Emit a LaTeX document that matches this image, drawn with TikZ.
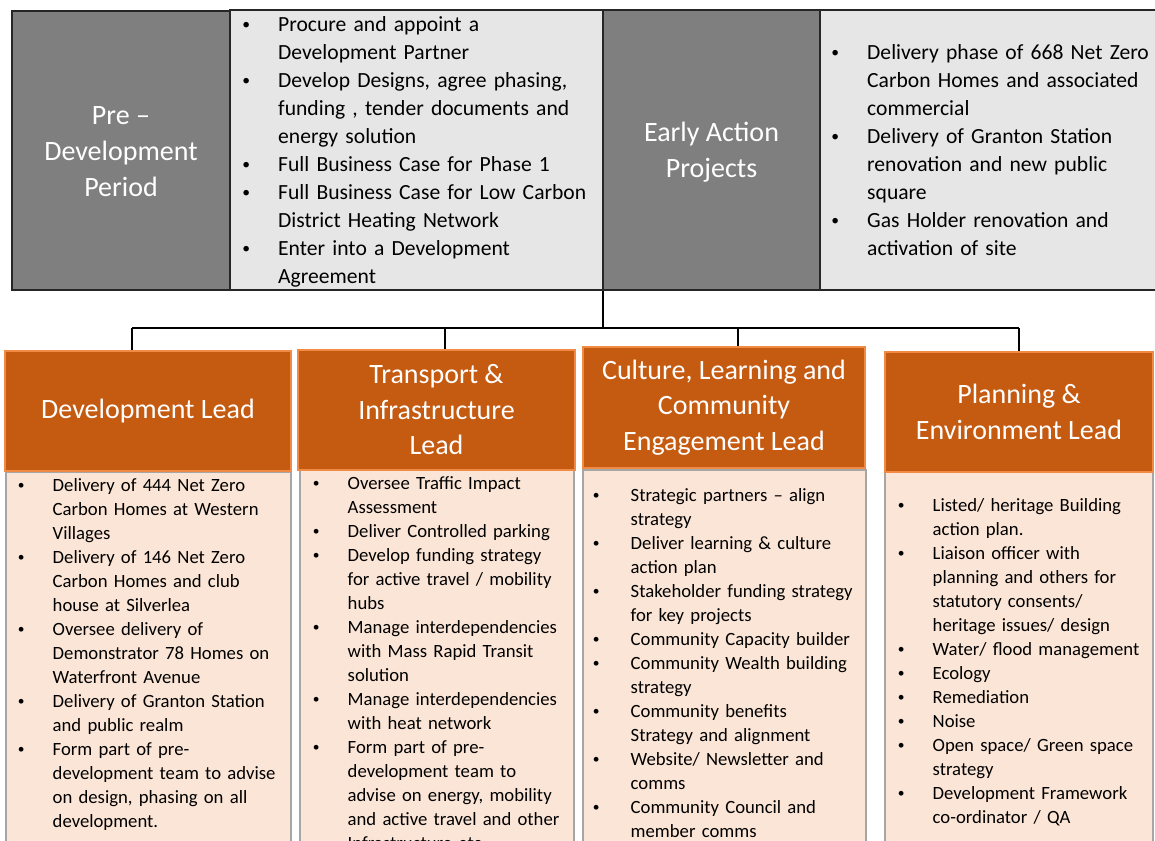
\documentclass[tikz,border=0pt]{standalone}
\usepackage{graphicx}
\usepackage{fontspec}
\setmainfont{Carlito}
\definecolor{dgrey}{HTML}{7F7F7F}
\definecolor{lgrey}{HTML}{E7E6E6}
\definecolor{frame}{HTML}{262626}
\definecolor{orng}{HTML}{C55A11}
\definecolor{hdrline}{HTML}{F08A45}
\definecolor{peach}{HTML}{FBE5D6}
\definecolor{listline}{HTML}{A6A6A6}
\newlength{\bind}
\newcommand{\itm}{\par\hangindent=\bind\hangafter=1\noindent\makebox[\bind][l]{\hspace{1.2pt}\raisebox{0.12em}{\scalebox{0.72}{•}}}\strut}
\tikzset{
 darkbox/.style={draw=frame, line width=2pt, fill=dgrey, inner sep=0pt},
 boxtitle/.style={text=white, font=\fontsize{28}{36}\selectfont, align=center, inner sep=0pt},
 lightbox/.style={draw=frame, line width=2pt, fill=lgrey, inner sep=0pt},
 hdr/.style={draw=hdrline, line width=1.5pt, fill=orng, text=white, font=\fontsize{28}{35.5}\selectfont, align=center, inner sep=0pt},
 listbox/.style={draw=listline, line width=1.5pt, fill=peach, inner sep=0pt},
 toplist/.style={anchor=west, text width=380pt, align=left, inner sep=0pt, font=\fontsize{21.6}{28}\selectfont},
 botlist/.style={anchor=west, text width=300pt, align=left, inner sep=0pt, font=\fontsize{18.7}{24}\selectfont},
 link/.style={line width=2pt, draw=black}
}
\begin{document}
\begin{tikzpicture}[x=1pt,y=-1pt]
\useasboundingbox (0,0) rectangle (1155,840);
\fill[white] (0,0) rectangle (1155,840);
\clip (0,0) rectangle (1155,840);

% top row
\node[lightbox, minimum width=373pt, minimum height=280pt] (pd) at (416.5,150) {};
\node[lightbox, minimum width=338pt, minimum height=280pt] (ep) at (988.5,150) {};
\node[darkbox, minimum width=218pt, minimum height=279pt] (pre) at (121,150.5) {};
\node[darkbox, minimum width=217pt, minimum height=280pt] (ea) at (711.5,150) {};
\node[boxtitle] (pret) at (121,152) {Pre –\\Development\\Period};
\node[boxtitle] (eat) at (711.5,152) {Early Action\\Projects};

\node[toplist] (pdt) at (241,148) {\setlength{\bind}{37pt}%
\itm Procure and appoint a\newline Development Partner
\itm Develop Designs, agree phasing,\newline funding , tender documents and\newline energy solution
\itm Full Business Case for Phase 1
\itm Full Business Case for Low Carbon\newline District Heating Network
\itm Enter into a Development\newline Agreement\strut\par};

\node[toplist] (ept) at (830,148) {\setlength{\bind}{37pt}%
\itm Delivery phase of 668 Net Zero\newline Carbon Homes and associated\newline commercial
\itm Delivery of Granton Station\newline renovation and new public\newline square
\itm Gas Holder renovation and\newline activation of site\strut\par};

% connectors
\coordinate (hub) at (603,328);
\coordinate (j1) at (132,328);
\coordinate (j2) at (445,328);
\coordinate (j3) at (738,328);
\coordinate (j4) at (1019,328);
\draw[link] (hub |- ea.south) -- (hub);
\draw[link] (j1) -- (j4);

% bullet boxes
\draw[listbox] (6,472) rectangle (291,870);
\draw[listbox] (300,470) rectangle (574,870);
\draw[listbox] (583,470) rectangle (866,870);
\draw[listbox] (885,472) rectangle (1153,870);

% headers
\node[hdr, minimum width=286pt, minimum height=120pt] (h1) at (148,411) {Development Lead};
\node[hdr, minimum width=277pt, minimum height=120pt] (h2) at (436.5,410) {Transport \&\\Infrastructure\\Lead};
\node[hdr, minimum width=282pt, minimum height=121pt] (h3) at (724,407.5) {Culture, Learning and\\Community\\Engagement Lead};
\node[hdr, minimum width=268pt, minimum height=120pt] (h4) at (1019,412) {Planning \&\\Environment Lead};

\draw[link] (j1) -- (j1 |- h1.north);
\draw[link] (j2) -- (j2 |- h2.north);
\draw[link] (j3) -- (j3 |- h3.north);
\draw[link] (j4) -- (j4 |- h4.north);

% lists
\node[botlist] (l1) at (16.5,651) {\setlength{\bind}{36pt}%
\itm Delivery of 444 Net Zero\newline Carbon Homes at Western\newline Villages
\itm Delivery of 146 Net Zero\newline Carbon Homes and club\newline house at Silverlea
\itm Oversee delivery of\newline Demonstrator 78 Homes on\newline Waterfront Avenue
\itm Delivery of Granton Station\newline and public realm
\itm Form part of pre-\newline development team to advise\newline on design, phasing on all\newline development.\strut\par};

\node[botlist] (l2) at (311.5,661) {\setlength{\bind}{36pt}%
\itm Oversee Traffic Impact\newline Assessment
\itm Deliver Controlled parking
\itm Develop funding strategy\newline for active travel / mobility\newline hubs
\itm Manage interdependencies\newline with Mass Rapid Transit\newline solution
\itm Manage interdependencies\newline with heat network
\itm Form part of pre-\newline development team to\newline advise on energy, mobility\newline and active travel and other\newline Infrastructure etc.\strut\par};

\node[botlist] (l3) at (591.5,661) {\setlength{\bind}{39pt}%
\itm Strategic partners – align\newline strategy
\itm Deliver learning \& culture\newline action plan
\itm Stakeholder funding strategy\newline for key projects
\itm Community Capacity builder
\itm Community Wealth building\newline strategy
\itm Community benefits\newline Strategy and alignment
\itm Website/ Newsletter and\newline comms
\itm Community Council and\newline member comms\strut\par};

\node[botlist] (l4) at (896.5,659) {\setlength{\bind}{36pt}%
\itm Listed/ heritage Building\newline action plan.
\itm Liaison officer with\newline planning and others for\newline statutory consents/\newline heritage issues/ design
\itm Water/ flood management
\itm Ecology
\itm Remediation
\itm Noise
\itm Open space/ Green space\newline strategy
\itm Development Framework\newline co-ordinator / QA\strut\par};
\end{tikzpicture}
\end{document}
